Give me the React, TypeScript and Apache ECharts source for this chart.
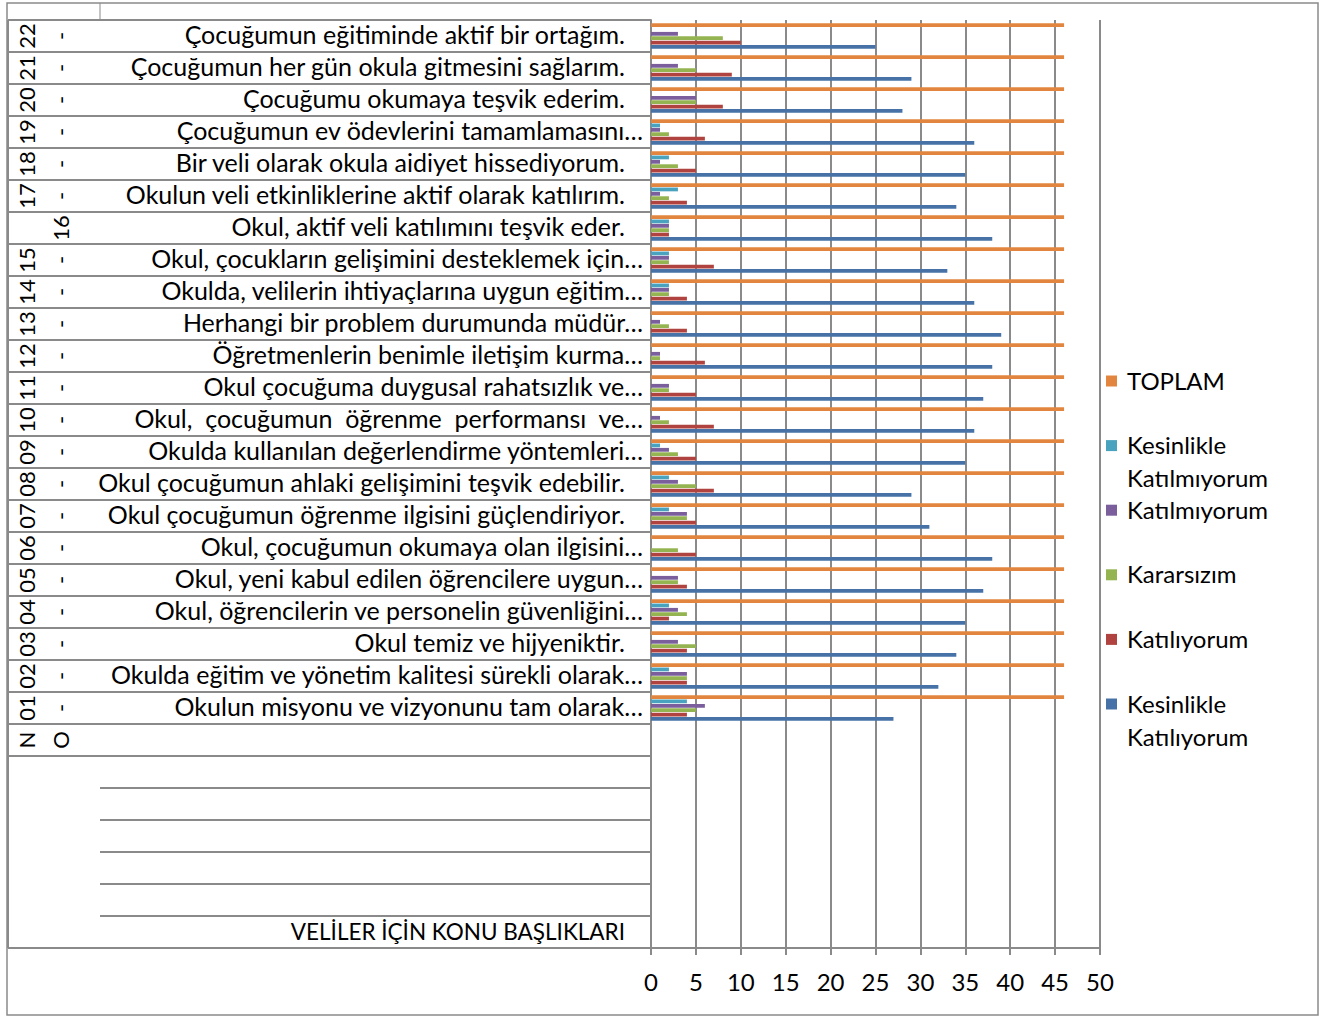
import React, { useEffect, useRef } from 'react';
import * as echarts from 'echarts';

// ---- data ----
const ids = ['01','02','03','04','05','06','07','08','09','10','11','12','13','14','15','16','17','18','19','20','21','22'];
const items = [
  'Okulun misyonu ve vizyonunu tam olarak…',
  'Okulda eğitim ve yönetim kalitesi sürekli olarak…',
  'Okul temiz ve hijyeniktir.',
  'Okul, öğrencilerin ve personelin güvenliğini…',
  'Okul, yeni kabul edilen öğrencilere uygun…',
  'Okul, çocuğumun okumaya olan ilgisini…',
  'Okul çocuğumun öğrenme ilgisini güçlendiriyor.',
  'Okul çocuğumun ahlaki gelişimini teşvik edebilir.',
  'Okulda kullanılan değerlendirme yöntemleri…',
  'Okul,\u00A0 çocuğumun\u00A0 öğrenme\u00A0 performansı\u00A0 ve…',
  'Okul çocuğuma duygusal rahatsızlık ve…',
  'Öğretmenlerin benimle iletişim kurma…',
  'Herhangi bir problem durumunda müdür…',
  'Okulda, velilerin ihtiyaçlarına uygun eğitim…',
  'Okul, çocukların gelişimini desteklemek için…',
  'Okul, aktif veli katılımını teşvik eder.',
  'Okulun veli etkinliklerine aktif olarak katılırım.',
  'Bir veli olarak okula aidiyet hissediyorum.',
  'Çocuğumun ev ödevlerini tamamlamasını…',
  'Çocuğumu okumaya teşvik ederim.',
  'Çocuğumun her gün okula gitmesini sağlarım.',
  'Çocuğumun eğitiminde aktif bir ortağım.',
];
const headerLabel = 'VELİLER İÇİN KONU BAŞLIKLARI';
const blankRows = ['b1', 'b2', 'b3', 'b4', 'b5'];
const noRow = 'NO';

const seriesNames = ['TOPLAM', 'Kesinlikle Katılmıyorum', 'Katılmıyorum', 'Kararsızım', 'Katılıyorum', 'Kesinlikle Katılıyorum'];
const legendLabels = ['TOPLAM', 'Kesinlikle\nKatılmıyorum', 'Katılmıyorum', 'Kararsızım', 'Katılıyorum', 'Kesinlikle\nKatılıyorum'];
const seriesColors = ['#E2863F', '#4AA3BE', '#7B5E9C', '#93B451', '#B0433F', '#4672A8'];

const toplam = [46,46,46,46,46,46,46,46,46,46,46,46,46,46,46,46,46,46,46,46,46,46];
const kesinlikleKatilmiyorum = [4,2,0,2,0,0,2,2,1,0,0,0,0,2,2,2,3,2,1,0,0,0];
const katilmiyorum = [6,4,3,3,3,0,4,3,2,1,2,1,1,2,2,2,1,1,1,5,3,3];
const kararsizim = [5,4,5,4,3,3,4,5,3,2,2,1,2,2,2,2,2,3,2,5,5,8];
const katiliyorum = [4,4,4,2,4,5,5,7,5,7,5,6,4,4,7,2,4,5,6,8,9,10];
const kesinlikleKatiliyorum = [27,32,34,35,37,38,31,29,35,36,37,38,39,36,33,38,34,35,36,28,29,25];

const xTicks = { min: 0, max: 50, interval: 5 };

// ---- layout / style ----
const FONT = 'Lato';
const FS = 24;
const FS_CAT = 25;
const FS_ROT = 22;
const GRAY = '#8a8a8a';
const W = 1328;
const H = 1017;

const categories = [headerLabel, ...blankRows, noRow, ...ids];
const pad = (arr: number[]) => [null, null, null, null, null, null, null, ...arr];
const seriesData = [toplam, kesinlikleKatilmiyorum, katilmiyorum, kararsizim, katiliyorum, kesinlikleKatiliyorum];

function labelFor(key: string): string {
  const i = ids.indexOf(key);
  if (i >= 0) return items[i];
  if (key === headerLabel) return headerLabel;
  return '';
}

export default function App() {
  const ref = useRef<HTMLDivElement>(null);
  useEffect(() => {
    const chart = echarts.init(ref.current!, null, { renderer: 'svg' });
    const option: any = {
      animation: false,
      backgroundColor: '#ffffff',
      grid: { left: 651, top: 20, width: 449, height: 928 },
      xAxis: {
        type: 'value',
        min: xTicks.min,
        max: xTicks.max,
        interval: xTicks.interval,
        axisLine: { show: true, lineStyle: { color: GRAY, width: 2 } },
        axisTick: { show: true, length: 7, lineStyle: { color: GRAY, width: 2 } },
        splitLine: { show: true, lineStyle: { color: GRAY, width: 2 } },
        axisLabel: { color: '#000', fontFamily: FONT, fontSize: FS, margin: 21 },
      },
      yAxis: {
        type: 'category',
        data: categories,
        axisLine: { show: true, lineStyle: { color: GRAY, width: 2 } },
        axisTick: { show: false },
        splitLine: { show: false },
        axisLabel: {
          interval: 0,
          margin: 8,
          formatter: (v: string) => {
            const t = labelFor(v);
            if (!t) return '';
            if (v === headerLabel) return `{h|${t}}`;
            return t.endsWith('…') ? `{e|${t}}` : `{n|${t}}`;
          },
          rich: {
            e: { color: '#000', fontFamily: FONT, fontSize: FS_CAT, padding: [0, 0, 4, 0] },
            n: { color: '#000', fontFamily: FONT, fontSize: FS_CAT, padding: [0, 18, 4, 0] },
            h: { color: '#000', fontFamily: FONT, fontSize: 22.5, padding: [0, 18, 2, 0] },
          },
        },
      },
      series: seriesNames.map((name, k) => ({
        type: 'bar',
        name,
        data: pad(seriesData[k]),
        itemStyle: { color: seriesColors[k] },
        barWidth: 3.8,
        barGap: '15%',
      })),
    };
    chart.setOption(option);

    const cy = (i: number) => (chart.convertToPixel({ gridIndex: 0 }, [0, i]) as number[])[1];
    const band = Math.abs(cy(0) - cy(1));
    const axisX = (chart.convertToPixel({ gridIndex: 0 }, [0, 0]) as number[])[0];
    const g: any[] = [];
    // outer border
    g.push({ type: 'rect', shape: { x: 7, y: 3, width: 1311, height: 1012 }, style: { fill: 'none', stroke: GRAY, lineWidth: 1.5 }, silent: true });
    // row separators in the label area (top edge of each row)
    for (let i = 0; i < categories.length; i++) {
      const yTop = cy(i) - band / 2;
      const shortSep = i < blankRows.length;
      const x1 = shortSep ? 100 : 8;
      g.push({ type: 'line', shape: { x1, y1: yTop, x2: axisX, y2: yTop }, style: { stroke: GRAY, lineWidth: 2 }, silent: true });
    }
    const yBottom = cy(0) + band / 2;
    g.push({ type: 'line', shape: { x1: 8, y1: yBottom, x2: axisX, y2: yBottom }, style: { stroke: GRAY, lineWidth: 2 }, silent: true });
    const yTopAll = cy(categories.length - 1) - band / 2;
    g.push({ type: 'line', shape: { x1: 8, y1: yTopAll, x2: 8, y2: yBottom }, style: { stroke: GRAY, lineWidth: 2 }, silent: true });
    g.push({ type: 'line', shape: { x1: 100, y1: 3, x2: 100, y2: yTopAll }, style: { stroke: GRAY, lineWidth: 1 }, silent: true });

    // rotated level labels
    const rot = (text: string, x: number, y: number) => ({
      type: 'text', x, y, rotation: Math.PI / 2, silent: true,
      style: { text, fill: '#000', fontFamily: FONT, fontSize: FS_ROT, align: 'center', verticalAlign: 'middle' },
    });
    ids.forEach((id) => {
      const idx = categories.indexOf(id);
      const y = cy(idx);
      if (id === '16') {
        g.push(rot(id, 60, y));
      } else {
        g.push(rot(id, 26, y));
        g.push(rot('-', 60, y));
      }
    });
    const yNo = cy(categories.indexOf(noRow));
    g.push(rot(noRow[0], 26, yNo));
    g.push(rot(noRow[1], 60, yNo));

    // legend
    const legendTop = 381;
    const legendPitch = 64.6;
    legendLabels.forEach((lab, k) => {
      const c = legendTop + k * legendPitch;
      g.push({ type: 'rect', shape: { x: 1106, y: c - 5.5, width: 11, height: 11 }, style: { fill: seriesColors[k] }, silent: true });
      g.push({
        type: 'text', x: 1127, y: c - 17.5, silent: true,
        style: { text: lab, fill: '#000', fontFamily: FONT, fontSize: FS, lineHeight: 33, align: 'left', verticalAlign: 'top' },
      });
    });

    chart.setOption({ graphic: g });
    return () => chart.dispose();
  }, []);
  return (
    <div style={{ position: 'absolute', left: 0, top: 0, width: W, height: H, background: '#fff' }}>
      <div ref={ref} style={{ width: W, height: H }} />
    </div>
  );
}
